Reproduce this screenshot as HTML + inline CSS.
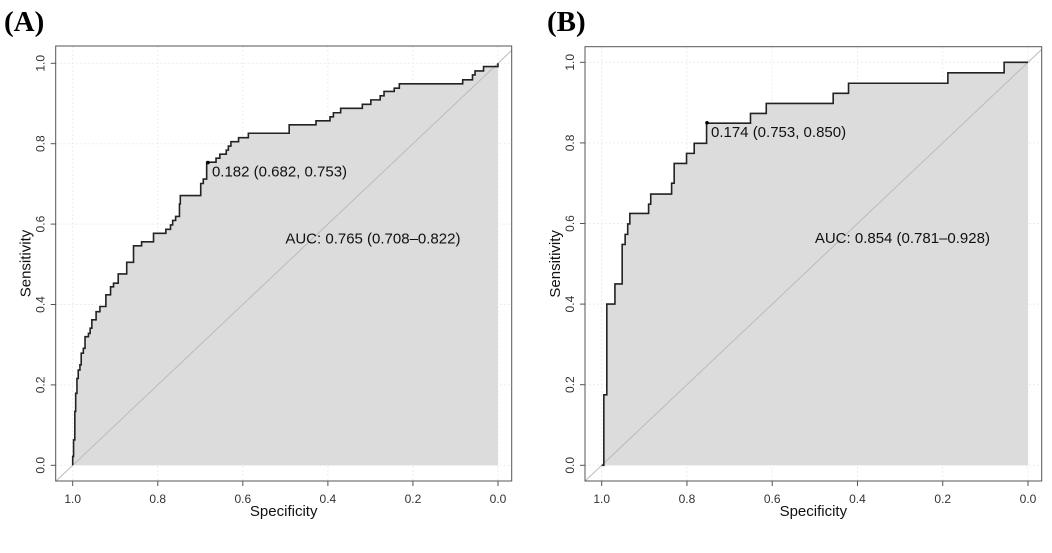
<!DOCTYPE html>
<html><head><meta charset="utf-8"><style>
body{margin:0;background:#fff;}
svg{display:block;font-family:"Liberation Sans",sans-serif;}
</style></head><body>
<svg id="chart" width="1052" height="553" viewBox="0 0 1052 553">
<text x="4" y="31" font-family="Liberation Serif,serif" font-weight="bold" font-size="29">(A)</text>
<text x="547" y="31" font-family="Liberation Serif,serif" font-weight="bold" font-size="29">(B)</text>
</svg>
<script>
const ticks = [0, 0.2, 0.4, 0.6, 0.8, 1.0];
const tickLabels = ["0.0","0.2","0.4","0.6","0.8","1.0"];
const specA = [1.0,0.998,0.995,0.993,0.990,0.987,0.983,0.980,0.975,0.971,0.963,0.959,0.955,0.945,0.936,0.922,0.911,0.904,0.893,0.873,0.857,0.838,0.810,0.781,0.770,0.765,0.758,0.749,0.747,0.699,0.693,0.685,0.663,0.654,0.639,0.634,0.628,0.610,0.587,0.491,0.428,0.395,0.387,0.370,0.319,0.299,0.277,0.268,0.244,0.232,0.083,0.060,0.054,0.034,0.011,0];
const sensA = [0.022,0.063,0.134,0.179,0.216,0.237,0.250,0.279,0.291,0.320,0.328,0.341,0.362,0.382,0.395,0.424,0.444,0.453,0.476,0.505,0.546,0.556,0.577,0.587,0.598,0.609,0.619,0.650,0.671,0.701,0.712,0.754,0.764,0.774,0.784,0.794,0.805,0.815,0.826,0.847,0.857,0.867,0.877,0.888,0.898,0.909,0.919,0.930,0.938,0.949,0.959,0.971,0.981,0.992,0.992,1.0];
const specB = [0.995,0.988,0.969,0.952,0.945,0.939,0.934,0.890,0.885,0.836,0.830,0.801,0.783,0.754,0.651,0.614,0.457,0.421,0.188,0.056,0];
const sensB = [0.175,0.400,0.450,0.548,0.573,0.599,0.625,0.648,0.673,0.700,0.749,0.774,0.799,0.849,0.873,0.898,0.923,0.948,0.974,1.0,1.0];
const bestA = [0.682, 0.753];
const bestB = [0.753, 0.850];
const threshA = "0.182", threshB = "0.174";
const aucA = "AUC: 0.765 (0.708–0.822)";
const aucB = "AUC: 0.854 (0.781–0.928)";

const NS = "http://www.w3.org/2000/svg";
const svg = document.getElementById('chart');
function mk(tag, attrs, parent){const e=document.createElementNS(NS,tag);for(const k in attrs)e.setAttribute(k,attrs[k]);(parent||svg).appendChild(e);return e;}

function panel(id, box, x1, x0, y0, y1, specs, senss, best, thr, auc){
  const X = s => x0 + (x1 - x0) * s;
  const Y = v => y0 - (y0 - y1) * v;
  const g = mk('g', {});
  
  
  const cp = mk('clipPath', {id: id + 'clip'}, g);
  mk('rect', {x: box[0], y: box[1], width: box[2]-box[0], height: box[3]-box[1]}, cp);
  ticks.forEach(t => {
    const gx = mk('line', {x1: X(t), x2: X(t), y1: box[1], y2: box[3], stroke: '#ececec', 'stroke-dasharray': '2,2'}, g);
    
    
    const gy = mk('line', {x1: box[0], x2: box[2], y1: Y(t), y2: Y(t), stroke: '#ececec', 'stroke-dasharray': '2,2'}, g);
    
    
  });
  let d = 'M' + X(1) + ',' + Y(0);
  let pv = 0;
  for (let i = 0; i < specs.length; i++) {
    d += ' L' + X(specs[i]) + ',' + Y(pv) + ' L' + X(specs[i]) + ',' + Y(senss[i]);
    pv = senss[i];
  }
  const fill = mk('path', {d: d + ' L' + X(0) + ',' + Y(0) + ' Z', fill: '#dcdcdc', stroke: 'none'}, g);
  
  
  const diag = mk('line', {x1: X(1.1), y1: Y(-0.1), x2: X(-0.1), y2: Y(1.1), stroke: '#bbbbbb', 'stroke-width': 1, 'clip-path': 'url(#' + id + 'clip)'}, g);
  
  
  const line = mk('path', {d: d, fill: 'none', stroke: '#222', 'stroke-width': 1.6}, g);
  
  
  const pt = mk('circle', {cx: X(best[0]), cy: Y(best[1]), r: 1.8, fill: '#000'}, g);
  
  
  const bl = mk('text', {x: X(best[0]) + 4, y: Y(best[1]) + 14, 'font-size': 15, fill: '#111'}, g);
  bl.textContent = thr + ' (' + best[0].toFixed(3) + ', ' + best[1].toFixed(3) + ')';
  
  
  const al = mk('text', {x: X(0.5), y: Y(0.5) - 21, 'font-size': 15, fill: '#111'}, g);
  al.textContent = auc;
  
  
  const fr = mk('rect', {x: box[0], y: box[1], width: box[2]-box[0], height: box[3]-box[1], fill: 'none', stroke: '#555', 'stroke-width': 1}, g);
  
  
  ticks.forEach((t, i) => {
    mk('line', {x1: box[0]-5, x2: box[0], y1: Y(t), y2: Y(t), stroke: '#555'}, g);
    mk('line', {x1: X(t), x2: X(t), y1: box[3], y2: box[3]+5, stroke: '#555'}, g);
    const yl = mk('text', {x: 0, y: 0, 'font-size': 12, fill: '#333', 'text-anchor': 'middle', transform: 'translate(' + (box[0]-11) + ',' + Y(t) + ') rotate(-90)'}, g);
    yl.textContent = tickLabels[i];
    
    
    const xl = mk('text', {x: X(t), y: box[3] + 22, 'font-size': 12, fill: '#333', 'text-anchor': 'middle'}, g);
    xl.textContent = tickLabels[i];
    
    
  });
  const xt = mk('text', {x: (box[0]+box[2])/2, y: box[3] + 35, 'font-size': 15, fill: '#111', 'text-anchor': 'middle'}, g);
  xt.textContent = 'Specificity';
  
  
  const yt = mk('text', {x: 0, y: 0, 'font-size': 15, fill: '#111', 'text-anchor': 'middle', transform: 'translate(' + (box[0]-25) + ',' + (box[1]+box[3])/2 + ') rotate(-90)'}, g);
  yt.textContent = 'Sensitivity';
  
  
}
panel('a', [55.7, 46, 511.7, 481], 72.7, 498, 465.3, 63.3, specA, sensA, bestA, threshA, aucA);
panel('b', [585, 46.7, 1041.7, 481], 601.7, 1028, 465.3, 62.3, specB, sensB, bestB, threshB, aucB);
</script>
</body></html>
